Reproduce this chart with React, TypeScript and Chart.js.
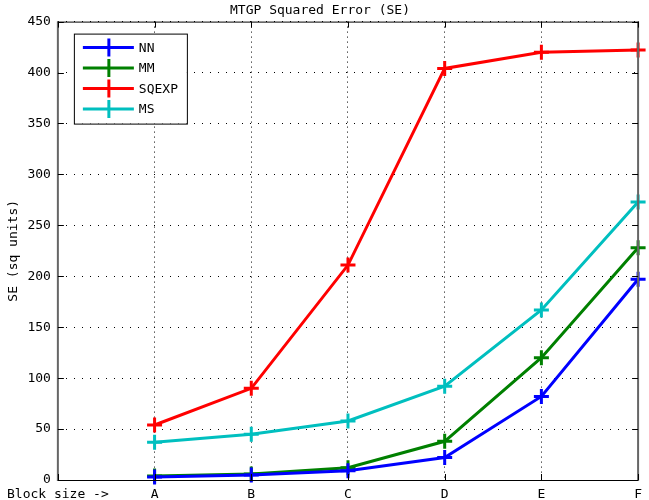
import React, { useEffect, useRef } from 'react';
import { Chart, registerables } from 'chart.js';

Chart.register(...registerables);

const categories = ['Block size ->', 'A', 'B', 'C', 'D', 'E', 'F'];
const seriesNames = ['NN', 'MM', 'SQEXP', 'MS'];
const seriesColors = ['#0000ff', '#008000', '#ff0000', '#00bfbf'];
const nnValues = [null, 3, 5, 9, 22, 82, 197];
const mmValues = [null, 4, 6, 12, 38, 120, 228];
const sqexpValues = [null, 54, 90, 211, 404, 420, 422];
const msValues = [null, 37, 45, 58, 92, 167, 273];
const yMin = 0;
const yMax = 450;
const yStep = 50;

const FONT = '"DejaVu Sans Mono", "Liberation Mono", monospace';

const boxPlugin = {
  id: 'matlabBox',
  afterDatasetsDraw(chart: any) {
    const { ctx, chartArea } = chart;
    const { left, right, top, bottom } = chartArea;
    ctx.save();
    ctx.lineWidth = 1;
    ctx.strokeStyle = '#000';
    ctx.beginPath();
    ctx.moveTo(left, top + 0.5);
    ctx.lineTo(right, top + 0.5);
    ctx.moveTo(left, bottom + 0.5);
    ctx.lineTo(right, bottom + 0.5);
    ctx.stroke();
    ctx.strokeStyle = '#666';
    ctx.lineWidth = 2;
    ctx.beginPath();
    ctx.moveTo(left, top);
    ctx.lineTo(left, bottom + 1);
    ctx.moveTo(right, top);
    ctx.lineTo(right, bottom + 1);
    ctx.stroke();
    ctx.strokeStyle = '#000';
    ctx.lineWidth = 1;
    const xs = chart.scales.x;
    const ys = chart.scales.y;
    ctx.beginPath();
    for (let i = 0; i < categories.length; i++) {
      const px = Math.round(xs.getPixelForValue(i)) + 0.5;
      ctx.moveTo(px, bottom);
      ctx.lineTo(px, bottom - 6);
      ctx.moveTo(px, top);
      ctx.lineTo(px, top + 6);
    }
    for (let v = yMin; v <= yMax; v += yStep) {
      const py = Math.round(ys.getPixelForValue(v)) + 0.5;
      ctx.moveTo(left, py);
      ctx.lineTo(left + 6, py);
      ctx.moveTo(right, py);
      ctx.lineTo(right - 6, py);
    }
    ctx.stroke();

    const lx = left + 16;
    const ly = top + 12;
    const lw = 113;
    const lh = 90;
    ctx.fillStyle = '#fff';
    ctx.fillRect(lx, ly, lw, lh);
    ctx.strokeStyle = '#000';
    ctx.lineWidth = 1;
    ctx.strokeRect(lx + 0.5, ly + 0.5, lw, lh);
    ctx.font = '13px ' + FONT;
    ctx.textBaseline = 'middle';
    ctx.textAlign = 'left';
    chart.data.datasets.forEach((ds: any, i: number) => {
      const cy = ly + 14 + i * 20.5;
      ctx.strokeStyle = ds.borderColor;
      ctx.lineWidth = 3;
      ctx.beginPath();
      ctx.moveTo(lx + 9, cy);
      ctx.lineTo(lx + 60, cy);
      ctx.moveTo(lx + 35, cy - 9);
      ctx.lineTo(lx + 35, cy + 9);
      ctx.stroke();
      ctx.fillStyle = '#000';
      ctx.fillText(ds.label, lx + 65, cy + 1);
    });
    ctx.restore();
  },
};

export default function App() {
  const ref = useRef<HTMLCanvasElement>(null);
  useEffect(() => {
    if (!ref.current) return;
    const allValues = [nnValues, mmValues, sqexpValues, msValues];
    const chart = new Chart(ref.current, {
      type: 'line',
      data: {
        labels: categories,
        datasets: seriesNames.map((name, i) => ({
          label: name,
          data: allValues[i],
          borderColor: seriesColors[i],
          backgroundColor: seriesColors[i],
          borderWidth: 3,
          pointStyle: 'cross',
          pointRadius: 7.5,
          pointBorderWidth: 3,
          tension: 0,
          clip: false,
          spanGaps: false,
        })),
      },
      options: {
        responsive: false,
        animation: false,
        layout: { padding: { left: 0, right: 9, top: 0, bottom: 0 } },
        plugins: {
          legend: { display: false },
          tooltip: { enabled: false },
          title: {
            display: true,
            text: 'MTGP Squared Error (SE)',
            color: '#000',
            font: { family: FONT, size: 13, weight: 'normal' },
            padding: { top: 3, bottom: 3 },
          },
        },
        scales: {
          x: {
            type: 'category',
            offset: false,
            afterFit: (s: any) => { s.height = 20; },
            grid: {
              display: true,
              drawTicks: false,
              color: '#000',
              lineWidth: 1,
              tickLength: 0,
            },
            border: { display: false, dash: [1, 4] },
            ticks: {
              autoSkip: false,
              maxRotation: 0,
              color: '#000',
              padding: 7,
              font: { family: FONT, size: 13 },
            },
          },
          y: {
            type: 'linear',
            min: yMin,
            max: yMax,
            afterFit: (s: any) => { s.width = 57; },
            grid: {
              display: true,
              drawTicks: false,
              color: '#000',
              lineWidth: 1,
              tickLength: 0,
            },
            border: { display: false, dash: [1, 7] },
            ticks: {
              stepSize: yStep,
              color: '#000',
              padding: 7,
              font: { family: FONT, size: 13 },
            },
            title: {
              display: true,
              text: 'SE (sq units)',
              color: '#000',
              font: { family: FONT, size: 13 },
              padding: { top: 5, bottom: 0 },
            },
          },
        },
      },
      plugins: [boxPlugin],
    } as any);
    return () => chart.destroy();
  }, []);
  return (
    <div style={{ position: 'fixed', left: 0, top: 0, width: 649, height: 500, background: '#fff' }}>
      <canvas ref={ref} width={649} height={500} style={{ display: 'block' }} />
    </div>
  );
}
